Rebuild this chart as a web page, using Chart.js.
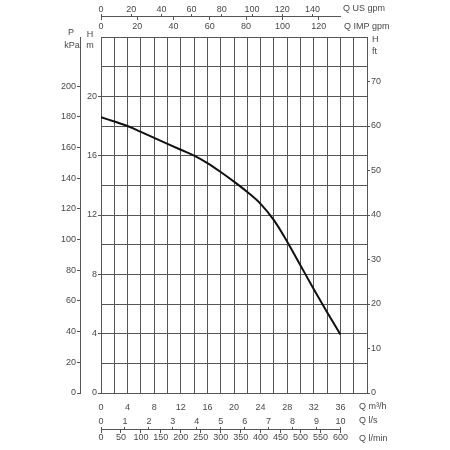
<!DOCTYPE html>
<html>
<head>
<meta charset="utf-8">
<script src="https://cdn.jsdelivr.net/npm/chart.js@4"></script>
<style>
  html, body { margin: 0; background: #fff; }
  #wrap { width: 450px; height: 450px; }
</style>
</head>
<body>
<div id="wrap"><canvas id="pumpCurve"></canvas></div>
<script>
// pump curve
const flowM3h = [0, 2, 4, 6, 8, 10, 12, 14, 16, 18, 20, 22, 24, 26, 28, 30, 32, 34, 36];
const headM = [18.6, 18.3, 18.0, 17.6, 17.2, 16.8, 16.4, 16.0, 15.5, 14.9, 14.25, 13.55, 12.75, 11.65, 10.2, 8.6, 7.0, 5.45, 3.95];

// tick labels
const m3hLabels = [0, 4, 8, 12, 16, 20, 24, 28, 32, 36];
const headLabels = [0, 4, 8, 12, 16, 20];
const kpaTicks = [0, 20, 40, 60, 80, 100, 120, 140, 160, 180, 200];
const ftTicks = [0, 10, 20, 30, 40, 50, 60, 70];
const usGpmTicks = [0, 20, 40, 60, 80, 100, 120, 140];
const impGpmTicks = [0, 20, 40, 60, 80, 100, 120];
const lsTicks = [0, 1, 2, 3, 4, 5, 6, 7, 8, 9, 10];
const lminTicks = [0, 50, 100, 150, 200, 250, 300, 350, 400, 450, 500, 550, 600];

// unit conversions from m3/h and m
const US_GPM = 4.403;
const IMP_GPM = 3.666;
const L_S = 1 / 3.6;
const L_MIN = 1000 / 60;
const Q_MAX = 40;
const Q_LINE = 36; // secondary flow scales stop here
const H_MAX = 24;
const KPA_MAX = 232;
const FT_MAX = 80;

const FONT = "'Liberation Sans Narrow', 'Arial Narrow', 'Liberation Sans', sans-serif";
const textColor = "#484848";
const gridColor = "#555";

Chart.defaults.font.family = FONT;
Chart.defaults.font.size = 9;
Chart.defaults.color = textColor;

const useTicks = (list) => (scale) => {
  scale.ticks = list.map((v) => ({ value: v }));
};

// the gpm and l/s lines sit outside the plot, hung on the H axis
function flowAxis(factor, list, hAt, tickLen, pad) {
  return {
    type: "linear",
    axis: "x",
    position: { y: hAt },
    min: 0,
    max: Q_LINE * factor,
    afterBuildTicks: useTicks(list),
    grid: { drawOnChartArea: false, tickLength: tickLen, color: gridColor },
    border: { color: gridColor },
    ticks: { autoSkip: false, maxRotation: 0, padding: pad },
  };
}

const trimFlowAxes = {
  id: "trimFlowAxes",
  afterLayout(chart) {
    const right = chart.scales.x.getPixelForValue(Q_LINE);
    ["xUS", "xIMP", "xLs", "xLmin"].forEach((id) => {
      const s = chart.scales[id];
      s.right = right;
      s.width = right - s.left;
      s.configure();
    });
  },
};

const axisTitles = {
  id: "axisTitles",
  afterDraw(chart) {
    const { ctx } = chart;
    const a = chart.chartArea;
    ctx.save();
    ctx.font = "9px " + FONT;
    ctx.fillStyle = textColor;
    ctx.textBaseline = "middle";
    ctx.textAlign = "center";
    ctx.fillText("P", a.left - 30, a.top - 4);
    ctx.fillText("kPa", a.left - 29, a.top + 9);
    ctx.fillText("H", a.left - 11, a.top - 2);
    ctx.fillText("m", a.left - 11, a.top + 9);
    ctx.textAlign = "left";
    ctx.fillText("H", a.right + 5, a.top + 3);
    ctx.fillText("ft", a.right + 5, a.top + 15);
    ctx.fillText("Q US gpm", a.right - 24, 9);
    ctx.fillText("Q IMP gpm", a.right - 23, 27);
    ctx.fillText("Q m\u00b3/h", a.right - 8, a.bottom + 14);
    ctx.fillText("Q l/s", a.right - 8, a.bottom + 28);
    ctx.fillText("Q l/min", a.right - 8, a.bottom + 46);
    ctx.restore();
  },
};

const ctx = document.getElementById("pumpCurve");
const chart = new Chart(ctx, {
  type: "line",
  data: {
    datasets: [
      {
        data: flowM3h.map((q, i) => ({ x: q, y: headM[i] })),
        borderColor: "#111",
        borderWidth: 2,
        pointRadius: 0,
        cubicInterpolationMode: "monotone",
        xAxisID: "x",
        yAxisID: "y",
      },
    ],
  },
  options: {
    responsive: true,
    maintainAspectRatio: false,
    animation: false,
    layout: { padding: { left: 45, right: 50, top: 37, bottom: 37 } },
    plugins: { legend: { display: false }, tooltip: { enabled: false } },
    scales: {
      x: {
        type: "linear",
        position: "bottom",
        min: 0,
        max: Q_MAX,
        afterFit: (s) => { s.height = 20; },
        grid: { color: gridColor, drawTicks: false },
        border: { color: gridColor },
        ticks: {
          stepSize: 2,
          autoSkip: false,
          maxRotation: 0,
          padding: 9,
          callback: (v) => (m3hLabels.includes(v) ? v : ""),
        },
      },
      y: {
        type: "linear",
        position: "left",
        weight: 0,
        min: 0,
        max: H_MAX,
        afterFit: (s) => { s.width = 21; },
        grid: {
          color: gridColor,
          tickLength: 3,
          tickColor: (c) => (c.tick && headLabels.includes(c.tick.value) ? gridColor : "transparent"),
        },
        border: { color: gridColor },
        ticks: {
          stepSize: 2,
          autoSkip: false,
          padding: 1,
          callback: (v) => (headLabels.includes(v) ? v : ""),
        },
      },
      yP: {
        type: "linear",
        axis: "y",
        position: "left",
        weight: 1,
        min: 0,
        max: KPA_MAX,
        afterBuildTicks: useTicks(kpaTicks),
        afterFit: (s) => { s.width = 35; },
        grid: { drawOnChartArea: false, tickLength: 3, color: gridColor },
        border: { color: gridColor },
        ticks: { autoSkip: false, padding: 1 },
      },
      yFt: {
        type: "linear",
        axis: "y",
        position: "right",
        min: 0,
        max: FT_MAX,
        afterBuildTicks: useTicks(ftTicks),
        afterFit: (s) => { s.width = 33; },
        grid: { drawOnChartArea: false, tickLength: 3, color: gridColor },
        border: { color: gridColor },
        ticks: { autoSkip: false, padding: 1 },
      },
      xUS: flowAxis(US_GPM, usGpmTicks, 25.35, -3, -10),
      xIMP: flowAxis(IMP_GPM, impGpmTicks, 25.35, 3, 1),
      xLs: flowAxis(L_S, lsTicks, -2.43, -3, -10),
      xLmin: flowAxis(L_MIN, lminTicks, -2.43, 3, 0),
    },
  },
  plugins: [trimFlowAxes, axisTitles],
});
</script>
</body>
</html>
